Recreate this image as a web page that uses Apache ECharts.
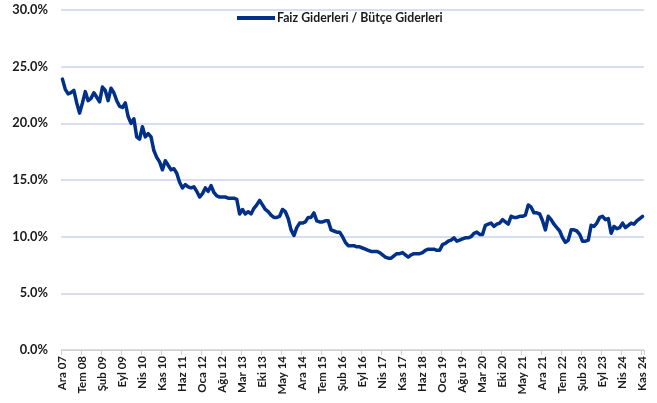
<!DOCTYPE html>
<html>
<head>
<meta charset="utf-8">
<script src="https://cdn.jsdelivr.net/npm/echarts@6/dist/echarts.min.js"></script>
<style>html,body{margin:0;padding:0;background:#fff;}#c{width:657px;height:403px;}</style>
</head>
<body>
<div id="c"></div>
<script>
const monthNames = ['Oca','Şub','Mar','Nis','May','Haz','Tem','Ağu','Eyl','Eki','Kas','Ara'];
const startYear = 2007, startMonth = 11; // Ara 07
const seriesName = 'Faiz Giderleri / Bütçe Giderleri';
const values = [
23.9,23.0,22.6,22.7,22.9,21.8,20.9,21.8,22.8,22.0,22.2,22.7,22.3,21.9,23.2,22.9,22.0,23.1,22.7,22.0,
21.5,21.4,21.8,20.6,20.0,20.4,18.8,18.6,19.7,18.8,19.1,18.8,17.6,17.0,16.6,15.9,16.7,16.3,15.9,16.0,
15.6,14.8,14.3,14.6,14.4,14.3,14.4,14.0,13.5,13.8,14.3,14.0,14.5,13.9,13.6,13.5,13.5,13.5,13.4,13.4,
13.4,13.3,12.0,12.4,12.0,12.2,12.0,12.5,12.8,13.2,12.8,12.4,12.2,11.9,11.7,11.7,11.8,12.4,12.2,11.6,
10.6,10.1,10.8,11.2,11.2,11.3,11.7,11.7,12.1,11.4,11.3,11.3,11.4,11.4,10.6,10.5,10.4,10.4,10.0,9.5,
9.2,9.2,9.2,9.1,9.1,9.0,8.9,8.8,8.7,8.7,8.7,8.6,8.4,8.2,8.1,8.1,8.3,8.5,8.5,8.6,
8.4,8.2,8.4,8.5,8.5,8.5,8.6,8.8,8.9,8.9,8.9,8.8,8.8,9.3,9.4,9.6,9.7,9.9,9.6,9.7,
9.8,9.9,9.9,10.0,10.3,10.4,10.2,10.2,11.0,11.1,11.2,10.9,11.1,11.2,11.5,11.3,11.1,11.8,11.7,11.7,
11.8,11.8,11.9,12.8,12.6,12.1,12.1,12.0,11.4,10.6,11.8,11.5,11.1,10.8,10.5,9.9,9.5,9.7,10.6,10.6,
10.5,10.2,9.6,9.6,9.7,11.0,10.9,11.2,11.7,11.8,11.5,11.6,10.3,10.9,10.7,10.8,11.2,10.8,11.0,11.2,
11.1,11.4,11.6,11.8
];
const categories = values.map((v, i) => {
  const m = (startMonth + i) % 12;
  const y = startYear + Math.floor((startMonth + i) / 12);
  return monthNames[m] + ' ' + String(y % 100).padStart(2, '0');
});
const yTicks = [0, 5, 10, 15, 20, 25, 30];

const chart = echarts.init(document.getElementById('c'), null, {renderer: 'canvas'});
const font = 'Lato, "Noto Sans", sans-serif';
chart.setOption({
  animation: false,
  backgroundColor: '#ffffff',
  grid: {left: 61, right: 13, top: 10, bottom: 53, containLabel: false},
  legend: {
    show: true,
    top: 7,
    left: 232,
    itemWidth: 38,
    itemHeight: 4,
    itemGap: 2,
    icon: 'rect',
    data: [seriesName],
    textStyle: {fontFamily: font, fontWeight: 'bold', fontSize: 12.3, color: '#1a1a1a', padding: [0, 0, 0, -3]}
  },
  xAxis: {
    type: 'category',
    data: categories,
    boundaryGap: true,
    axisLine: {show: true, lineStyle: {color: '#d0d0d0', width: 1}},
    axisTick: {show: true, interval: 6, length: 5, lineStyle: {color: '#d0d0d0'}},
    axisLabel: {interval: 6, rotate: 90, margin: 6, fontFamily: font, fontWeight: 'bold', fontSize: 11.5, color: '#1a1a1a'},
    splitLine: {show: false}
  },
  yAxis: {
    type: 'value',
    min: yTicks[0],
    max: yTicks[yTicks.length - 1],
    interval: 5,
    axisLine: {show: false},
    axisTick: {show: false},
    axisLabel: {margin: 13, fontFamily: font, fontWeight: 'bold', fontSize: 12.8, color: '#1a1a1a', formatter: v => v.toFixed(1) + '%'},
    splitLine: {show: true, lineStyle: {color: '#c8d3ea', width: 1.5}}
  },
  series: [{
    name: seriesName,
    type: 'line',
    data: values,
    showSymbol: false,
    symbol: 'none',
    lineStyle: {color: '#003087', width: 3.5, join: 'round', cap: 'round'},
    itemStyle: {color: '#003087'}
  }]
});
</script>
</body>
</html>
